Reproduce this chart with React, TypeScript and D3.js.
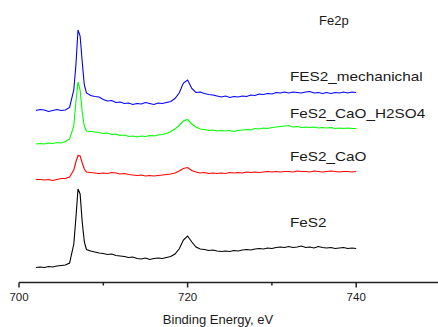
import React, { useRef, useEffect } from "react";
import * as d3 from "d3";

// binding energy grid (eV): coarse, then finer around the 2p3/2 peak, then coarse again
const energies: number[] = [
  ...d3.range(702, 706.5, 0.5),
  ...d3.range(706.5, 708, 0.25),
  ...d3.range(708, 740.5, 0.5),
];

// intensities (arb. units, already offset for stacking)
const fes2Mech: number[] = [
  171.5, 172.5, 172, 170.5, 171.5, 172.5, 171.5, 172, 174.5,
  192, 217, 252, 246, 220, 197,
  189, 186.5, 185.5, 185, 182.5, 181, 181.5, 179.5, 180, 178.5, 179, 177.5, 178.5, 178, 179.5, 178.5,
  177.5, 179, 178.5, 179.5, 180.5, 183.5, 189, 199, 202, 193.5, 189.5, 190, 188.5, 187.5, 187, 186,
  185, 186, 184.5, 185.5, 185, 186, 185.5, 187, 186.5, 188, 187.5, 188.5, 188, 189.5, 189, 190,
  189, 190, 189.5, 189, 190, 190.5, 189, 189.5, 188.5, 189.5, 188.5, 189.5, 189, 190, 189, 190, 189.5,
];

const fes2CaOH2SO4: number[] = [
  138, 138.5, 138, 139, 138.5, 139.5, 139, 140.5, 143,
  156, 180, 200, 192, 170, 156,
  151, 150.5, 150, 149.5, 148.5, 149, 147.5, 148, 146.5, 147, 145.5, 146, 145, 146, 145.5, 146.5,
  146, 147, 147.5, 148.5, 150.5, 153, 156.5, 161, 162.5, 158, 155, 153, 152.5, 151.5, 152, 151,
  151.5, 151, 151.5, 150.5, 151.5, 152, 152.5, 152, 153.5, 153, 154, 153.5, 154.5, 155, 155.5, 156,
  156.5, 155, 155.5, 154.5, 155, 154.5, 155, 154, 154.5, 154, 154.5, 153.5, 154, 153.5, 154, 153.5, 153.5,
];

const fes2CaO: number[] = [
  102.5, 102.5, 102, 102.5, 101.5, 102.5, 103.5, 103.5, 105,
  112, 120, 126.5, 126, 119, 113,
  110, 109.5, 109, 108.5, 109, 108.5, 109.5, 109, 108, 108.5, 107.5, 107, 106.5, 107, 106, 106.5,
  106, 106.5, 107, 107.5, 108, 109, 111, 113.5, 114.5, 111.5, 110, 109, 109.5, 108.5, 109, 108.5,
  109, 108.5, 109.5, 109, 109.5, 109, 110, 109.5, 110, 109.5, 110, 110.5, 110, 110.5, 110, 110.5,
  110.5, 110, 111, 110.5, 110.5, 110, 111, 110.5, 110, 110.5, 111, 110.5, 110, 110.5, 110.5, 110, 110.5,
];

const fes2: number[] = [
  14.5, 15, 14.5, 15.5, 15, 16, 16.5, 17, 19,
  38, 64, 93, 88, 60, 40,
  32.5, 31, 30, 29, 28.5, 27.5, 28, 26.5, 26, 25.5, 24.5, 25, 23.5, 23, 24, 22.5,
  23.5, 24, 23.5, 24.5, 25.5, 28, 33, 42, 46, 40, 35, 33, 32.5, 31.5, 32, 31,
  30.5, 31, 30.5, 31.5, 31, 32, 32.5, 32, 33, 33.5, 33, 34, 33.5, 34.5, 35, 34.5,
  35.5, 34.5, 35, 36, 34.5, 35, 34, 35.5, 34.5, 34, 34.5, 33.5, 34, 34.5, 33.5, 34, 33.5,
];

const seriesNames = ["FES2_mechanichal", "FeS2_CaO_H2SO4", "FeS2_CaO", "FeS2"];
const seriesValues = [fes2Mech, fes2CaOH2SO4, fes2CaO, fes2];
const seriesColors = ["#0000ff", "#00ff00", "#ff0000", "#000000"];
// label anchor (intensity units) for each series label
const labelLevels = [201, 164, 121.5, 55];

const majorTicks = [700, 720, 740];
const minorTicks = [710, 730];

const App = () => {
  const svgRef = useRef(null);

  useEffect(() => {
    document.body.style.margin = "0";
    const svg = d3.select(svgRef.current);
    svg.selectAll("*").remove();

    const width = 438;
    const height = 327;
    const font = "Arial, 'Liberation Sans', sans-serif";

    const x = d3.scaleLinear().domain([700, 750]).range([19, 440.5]);
    const y = d3.scaleLinear().domain([0, 282]).range([282, 0]);

    svg.attr("width", width).attr("height", height)
      .style("background", "#ffffff");

    const line = d3.line<number>()
      .x((d, i) => x(energies[i]))
      .y(d => y(d));

    seriesValues.forEach((vals, i) => {
      svg.append("path")
        .datum(vals)
        .attr("fill", "none")
        .attr("stroke", seriesColors[i])
        .attr("stroke-width", 1.1)
        .attr("d", line);

      // labels in the original are rendered a bit wide, so stretch them horizontally
      svg.append("text")
        .attr("transform", `translate(290,${y(labelLevels[i])}) scale(1.16,1)`)
        .style("font-family", font)
        .style("font-size", "13.2px")
        .style("fill", "#1a1a1a")
        .text(seriesNames[i]);
    });

    svg.append("text")
      .attr("x", 319)
      .attr("y", 25)
      .style("font-family", font)
      .style("font-size", "13px")
      .style("fill", "#1a1a1a")
      .text("Fe2p");

    // x axis
    const axisY = 282.5;
    const ax = svg.append("g");
    ax.append("line")
      .attr("x1", x(700)).attr("x2", width)
      .attr("y1", axisY).attr("y2", axisY)
      .attr("stroke", "#222").attr("stroke-width", 1.5);

    ax.selectAll(".major")
      .data(majorTicks)
      .join("line")
      .attr("x1", d => x(d)).attr("x2", d => x(d))
      .attr("y1", axisY).attr("y2", axisY + 5)
      .attr("stroke", "#222").attr("stroke-width", 1.5);

    ax.selectAll(".minor")
      .data(minorTicks)
      .join("line")
      .attr("x1", d => x(d)).attr("x2", d => x(d))
      .attr("y1", axisY).attr("y2", axisY + 3)
      .attr("stroke", "#222").attr("stroke-width", 1.5);

    ax.selectAll(".lbl")
      .data(majorTicks)
      .join("text")
      .attr("x", d => x(d))
      .attr("y", 301)
      .attr("text-anchor", "middle")
      .style("font-family", font)
      .style("font-size", "11.5px")
      .style("fill", "#1a1a1a")
      .text(d => d);

    svg.append("text")
      .attr("x", 218)
      .attr("y", 324)
      .attr("text-anchor", "middle")
      .style("font-family", font)
      .style("font-size", "13px")
      .style("fill", "#1a1a1a")
      .text("Binding Energy, eV");
  }, []);

  return (
    <svg ref={svgRef} style={{ display: "block", position: "absolute", left: 0, top: 0 }} />
  );
};

export default App;
